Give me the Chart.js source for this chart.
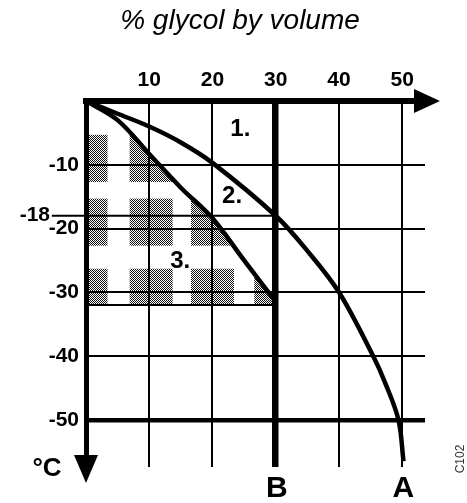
<!DOCTYPE html>
<html lang="en">
<head>
<meta charset="UTF-8" />
<title>% glycol by volume</title>
<script src="https://cdn.jsdelivr.net/npm/chart.js"></script>
<style>
  html, body { margin: 0; padding: 0; background: #fff; }
  #wrap { width: 467px; height: 503px; }
</style>
</head>
<body>
<div id="wrap"><canvas id="grafico" width="467" height="503"></canvas></div>
<script>
// data
const glycolTicks = [0, 10, 20, 30, 40, 50];
const tempTicks = [0, -10, -20, -30, -40, -50];
const curveAPct = [0, 5, 10, 15, 20, 30, 35, 40, 45.4, 47.3, 49.4, 50.2];
const curveATemp = [0, -2, -4, -6.5, -9.7, -18, -23.5, -30, -40, -44.2, -50, -56.5];
const curveBPct = [0, 5, 10, 15, 20, 25, 30];
const curveBTemp = [0, -3, -8.3, -13.6, -18.4, -25, -31.5];
const shadeCols = [0, 10.3, 20, 30];
const shadeRows = [-9, -19, -30];
const markTemp = -18;
const limitTemp = -32;
const limitPct = 30;
const titleText = '% glycol by volume';
const regionNames = ['1.', '2.', '3.'];
const endNames = ['B', 'A'];
const endPct = [30, 50];

// where the annotations sit (in axis units)
const regionPos = [[24.4, -4.4], [23.1, -14.9], [14.9, -25.2]];

const FONT = '"Liberation Sans", Arial, sans-serif';
Chart.defaults.font.family = FONT;
Chart.defaults.color = '#000';

const toPoints = (xs, ys) => xs.map((v, i) => ({ x: v, y: ys[i] }));

// stipple for the shaded squares
const tile = document.createElement('canvas');
tile.width = 2; tile.height = 2;
const tctx = tile.getContext('2d');
tctx.fillStyle = '#fff';
tctx.fillRect(0, 0, 2, 2);
tctx.fillStyle = '#111';
tctx.fillRect(0, 0, 1, 1);
tctx.fillRect(1, 1, 1, 1);

const ctx = document.getElementById('grafico').getContext('2d');
const stipple = ctx.createPattern(tile, 'repeat');

const decor = {
  id: 'decor',
  beforeDraw(chart) {
    const { ctx, scales: { x, y } } = chart;
    const inner = chart.getDatasetMeta(1).dataset;
    if (inner.updateControlPoints) inner.updateControlPoints(chart.chartArea, 'x');
    ctx.save();
    ctx.beginPath();
    inner.path(ctx);
    ctx.lineTo(x.getPixelForValue(limitPct), y.getPixelForValue(limitTemp));
    ctx.lineTo(x.getPixelForValue(0), y.getPixelForValue(limitTemp));
    ctx.closePath();
    ctx.clip();
    ctx.fillStyle = stipple;
    shadeCols.forEach(c => {
      shadeRows.forEach(r => {
        const x1 = x.getPixelForValue(c - 3.4);
        const x2 = x.getPixelForValue(c + 3.4);
        const y1 = y.getPixelForValue(r + 3.7);
        const y2 = y.getPixelForValue(r - 3.7);
        ctx.fillRect(x1, y1, x2 - x1, y2 - y1);
      });
    });
    ctx.restore();
  },
  afterDraw(chart) {
    const { ctx, chartArea: { right, bottom }, scales: { x, y } } = chart;
    const x0 = x.getPixelForValue(0);
    const y0 = y.getPixelForValue(0);
    ctx.save();
    ctx.strokeStyle = '#000';
    ctx.fillStyle = '#000';

    // -18 mark and the -32 limit line
    ctx.lineWidth = 2;
    ctx.beginPath();
    ctx.moveTo(x.getPixelForValue(-5.4), y.getPixelForValue(markTemp));
    ctx.lineTo(x.getPixelForValue(limitPct), y.getPixelForValue(markTemp));
    ctx.moveTo(x0, y.getPixelForValue(limitTemp));
    ctx.lineTo(x.getPixelForValue(limitPct), y.getPixelForValue(limitTemp));
    ctx.stroke();

    // axis arrows
    ctx.lineWidth = 5;
    ctx.beginPath();
    ctx.moveTo(right - 2, y0);
    ctx.lineTo(right + 6, y0);
    ctx.moveTo(x0, bottom - 2);
    ctx.lineTo(x0, bottom + 4);
    ctx.stroke();
    ctx.beginPath();
    ctx.moveTo(right - 11, y0 - 12);
    ctx.lineTo(right + 15, y0);
    ctx.lineTo(right - 11, y0 + 12);
    ctx.closePath();
    ctx.fill();
    ctx.beginPath();
    ctx.moveTo(x0 - 12, bottom - 12);
    ctx.lineTo(x0 + 12, bottom - 12);
    ctx.lineTo(x0, bottom + 16);
    ctx.closePath();
    ctx.fill();

    // title
    ctx.textAlign = 'center';
    ctx.textBaseline = 'alphabetic';
    ctx.font = 'italic 28px ' + FONT;
    ctx.fillText(titleText, 240, 29);

    // texts
    ctx.textBaseline = 'middle';
    ctx.textAlign = 'right';
    ctx.font = 'bold 21px ' + FONT;
    ctx.fillText(String(markTemp), x0 - 36, y.getPixelForValue(markTemp) - 1);

    ctx.textAlign = 'center';
    ctx.font = 'bold 26px ' + FONT;
    ctx.fillText('°C', 47, bottom + 2);

    ctx.font = 'bold 30px ' + FONT;
    endNames.forEach((t, i) => ctx.fillText(t, x.getPixelForValue(endPct[i]) + 1, bottom + 22));

    ctx.font = 'bold 24px ' + FONT;
    regionNames.forEach((t, i) => {
      ctx.fillText(t, x.getPixelForValue(regionPos[i][0]), y.getPixelForValue(regionPos[i][1]));
    });

    ctx.save();
    ctx.translate(461, 459);
    ctx.rotate(-Math.PI / 2);
    ctx.font = '12px ' + FONT;
    ctx.fillStyle = '#333';
    ctx.fillText('C102', 0, 0);
    ctx.restore();

    ctx.restore();
  }
};

new Chart(ctx, {
  type: 'line',
  data: {
    datasets: [
      {
        label: 'A',
        data: toPoints(curveAPct, curveATemp),
        borderColor: '#000',
        borderWidth: 4.5,
        tension: 0.35,
        pointRadius: 0,
        fill: false
      },
      {
        label: 'B',
        data: toPoints(curveBPct, curveBTemp),
        borderColor: '#000',
        borderWidth: 4.5,
        tension: 0.35,
        pointRadius: 0,
        fill: false
      }
    ]
  },
  options: {
    responsive: false,
    animation: false,
    layout: { padding: { left: 0, right: 42, top: 0, bottom: 36 } },
    plugins: {
      legend: { display: false },
      tooltip: { enabled: false },
      title: { display: false }
    },
    scales: {
      x: {
        type: 'linear',
        position: 'top',
        min: 0,
        max: 53.6,
        afterFit: (scale) => { scale.height = 101; },
        afterBuildTicks: (scale) => { scale.ticks = glycolTicks.map(v => ({ value: v })); },
        ticks: {
          padding: 8,
          maxRotation: 0,
          font: { size: 21, weight: 'bold' },
          callback: (v) => (v === 0 ? '' : String(v))
        },
        grid: {
          drawTicks: false,
          color: '#000',
          lineWidth: (c) => (c.tick.value === 0 ? 0 : c.tick.value === 30 ? 6.5 : 2)
        },
        border: { display: true, color: '#000', width: 6 }
      },
      y: {
        type: 'linear',
        min: -57.4,
        max: 0,
        afterFit: (scale) => { scale.width = 86; },
        afterBuildTicks: (scale) => { scale.ticks = tempTicks.map(v => ({ value: v })); },
        ticks: {
          padding: 7,
          font: { size: 21, weight: 'bold' },
          callback: (v) => (v === 0 ? '' : String(v))
        },
        grid: {
          drawTicks: false,
          color: '#000',
          lineWidth: (c) => (c.tick.value === 0 ? 0 : c.tick.value === -50 ? 4.5 : 2)
        },
        border: { display: true, color: '#000', width: 5 }
      }
    }
  },
  plugins: [decor]
});
</script>
</body>
</html>
